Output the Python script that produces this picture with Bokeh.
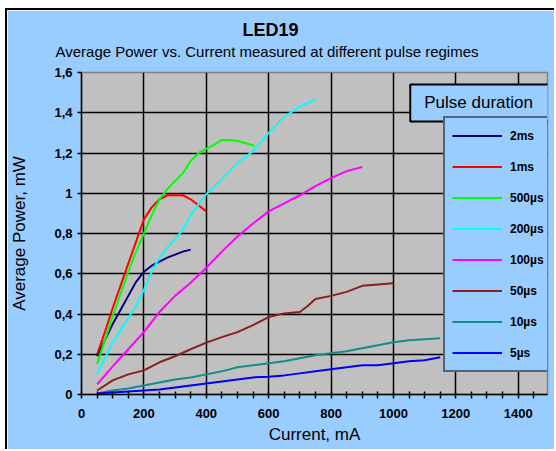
from bokeh.plotting import figure
from bokeh.models import (FixedTicker, Legend, LegendItem, Label, Title,
                          CustomJSTickFormatter, Range1d)
from bokeh.embed import file_html
from bokeh.resources import INLINE

# ---- data ----
series_names = ["2ms", "1ms", "500µs", "200µs", "100µs", "50µs", "10µs", "5µs"]
series_colors = ["#000080", "#FF0000", "#00FF00", "#00FFFF", "#FF00FF",
                 "#8B1E1E", "#148C8C", "#0000FF"]

current_2ms = [50, 75, 100, 125, 150, 175, 200, 225, 250, 275, 300, 325, 350]
power_2ms = [0.19, 0.27, 0.35, 0.42, 0.49, 0.56, 0.61, 0.64, 0.66, 0.68, 0.695, 0.71, 0.72]

current_1ms = [50, 75, 100, 125, 150, 175, 200, 225, 250, 275, 300, 325, 350, 375, 400]
power_1ms = [0.20, 0.31, 0.43, 0.54, 0.65, 0.76, 0.87, 0.93, 0.97, 0.99, 0.99, 0.99, 0.97, 0.94, 0.91]

current_500us = [50, 75, 100, 125, 150, 175, 200, 225, 250, 275, 300, 325, 350, 375,
                 400, 425, 450, 475, 500, 525, 555]
power_500us = [0.15, 0.27, 0.39, 0.50, 0.61, 0.71, 0.80, 0.89, 0.97, 1.02, 1.06, 1.10,
               1.16, 1.20, 1.22, 1.24, 1.265, 1.265, 1.26, 1.25, 1.235]

current_200us = [50, 75, 100, 125, 150, 175, 200, 225, 250, 275, 300, 325, 350, 375, 400,
                 450, 500, 550, 600, 650, 700, 750]
power_200us = [0.10, 0.18, 0.26, 0.32, 0.38, 0.44, 0.52, 0.61, 0.68, 0.73, 0.77, 0.82, 0.89,
               0.945, 0.995, 1.07, 1.15, 1.21, 1.30, 1.38, 1.43, 1.465]

current_100us = [50, 100, 150, 200, 250, 300, 350, 400, 450, 500, 550, 600, 650, 700,
                 750, 800, 850, 900]
power_100us = [0.05, 0.14, 0.225, 0.31, 0.41, 0.49, 0.555, 0.63, 0.71, 0.785, 0.85, 0.91,
               0.95, 0.99, 1.035, 1.075, 1.11, 1.13]

current_50us = [50, 100, 150, 200, 250, 300, 350, 400, 450, 500, 550, 600, 650, 700,
                725, 750, 800, 850, 900, 950, 1000]
power_50us = [0.02, 0.07, 0.10, 0.12, 0.16, 0.19, 0.225, 0.258, 0.285, 0.31, 0.345, 0.385,
              0.403, 0.41, 0.44, 0.475, 0.49, 0.51, 0.54, 0.547, 0.553]

current_10us = [50, 100, 150, 200, 250, 300, 350, 400, 450, 500, 550, 600, 650, 700, 750,
                800, 850, 900, 950, 1000, 1050, 1100, 1150]
power_10us = [0.005, 0.02, 0.03, 0.045, 0.06, 0.075, 0.085, 0.10, 0.115, 0.135, 0.145,
              0.155, 0.165, 0.18, 0.195, 0.205, 0.215, 0.23, 0.245, 0.26, 0.27, 0.275, 0.28]

current_5us = [50, 100, 150, 200, 250, 300, 350, 400, 450, 500, 550, 600, 650, 700, 750,
               800, 850, 900, 950, 1000, 1050, 1100, 1150]
power_5us = [0.005, 0.01, 0.015, 0.02, 0.025, 0.035, 0.045, 0.055, 0.065, 0.075, 0.085,
             0.088, 0.095, 0.105, 0.115, 0.125, 0.135, 0.145, 0.145, 0.155, 0.165, 0.17, 0.185]

x_ticks = [0, 200, 400, 600, 800, 1000, 1200, 1400]
x_minor_ticks = [50, 100, 150, 250, 300, 350, 450, 500, 550, 650, 700, 750, 850, 900, 950,
                 1050, 1100, 1150, 1250, 1300, 1350, 1450]
y_ticks = [0, 0.2, 0.4, 0.6, 0.8, 1.0, 1.2, 1.4, 1.6]

title_text = "LED19"
subtitle_text = "Average Power vs. Current measured at different pulse regimes"
legend_title = "Pulse duration"

xs = [current_2ms, current_1ms, current_500us, current_200us,
      current_100us, current_50us, current_10us, current_5us]
ys = [power_2ms, power_1ms, power_500us, power_200us,
      power_100us, power_50us, power_10us, power_5us]

FONT = "Liberation Sans"
BLUE_BG = "#99CCFF"

p = figure(width=549, height=441, output_backend="svg", toolbar_location=None,
           x_range=Range1d(0, 1494), y_range=Range1d(0, 1.6),
           min_border_left=71, min_border_right=9, min_border_top=62, min_border_bottom=57)
p.styles = {"border-left": "2px solid #000", "border-top": "2px solid #000",
            "margin-left": "5px", "margin-top": "8px"}
p.title.visible = False

p.border_fill_color = BLUE_BG
p.background_fill_color = "#C0C0C0"
p.outline_line_color = "#808080"
p.outline_line_width = 1.5

# titles (stacked above the frame: spacer, subtitle, title)
p.add_layout(Title(text=" ", text_font_size="10px", standoff=0), "above")
p.add_layout(Title(text=subtitle_text, align="left", offset=-26, standoff=0,
                   text_font=FONT, text_font_size="15px", text_font_style="normal",
                   text_color="black"), "above")
p.add_layout(Title(text=title_text, align="left", offset=161, standoff=2,
                   text_font=FONT, text_font_size="18px", text_font_style="bold",
                   text_color="black"), "above")

# axes
p.xaxis.ticker = FixedTicker(ticks=x_ticks, minor_ticks=x_minor_ticks)
p.yaxis.ticker = FixedTicker(ticks=y_ticks)
p.yaxis.formatter = CustomJSTickFormatter(
    code="var s = tick.toFixed(1).replace('.', ','); return s.endsWith(',0') ? s.slice(0, -2) : s;")
for ax in (p.xaxis[0], p.yaxis[0]):
    ax.axis_line_color = "black"
    ax.axis_line_width = 1.5
    ax.major_tick_line_color = "black"
    ax.major_tick_line_width = 1.5
    ax.minor_tick_line_color = "black"
    ax.minor_tick_line_width = 1.5
    ax.major_label_text_font = FONT
    ax.major_label_text_font_size = "13px"
    ax.major_label_text_font_style = "bold"
    ax.major_label_text_color = "black"
    ax.axis_label_text_font = FONT
    ax.axis_label_text_font_size = "17px"
    ax.axis_label_text_font_style = "normal"
    ax.axis_label_text_color = "black"

p.xaxis.axis_label = "Current, mA"
p.xaxis.major_tick_in = 3
p.xaxis.major_tick_out = 4
p.xaxis.minor_tick_in = 3
p.xaxis.minor_tick_out = 4
p.xaxis.major_label_standoff = 10
p.xaxis.axis_label_standoff = 4

p.yaxis.axis_label = "Average Power, mW"
p.yaxis.major_tick_in = 0
p.yaxis.major_tick_out = 4
p.yaxis.minor_tick_line_color = None
p.yaxis.major_label_standoff = 5
p.yaxis.axis_label_standoff = 22

# grid
p.xgrid.ticker = FixedTicker(ticks=x_ticks)
p.ygrid.ticker = FixedTicker(ticks=y_ticks)
for g in (p.xgrid[0], p.ygrid[0]):
    g.grid_line_color = "black"
    g.grid_line_width = 1.5

# lines
items = []
for name, color, x, y in zip(series_names, series_colors, xs, ys):
    r = p.line(x, y, line_color=color, line_width=2)
    items.append(LegendItem(label=name, renderers=[r]))

legend = Legend(items=items, location=(362, 22),
                background_fill_color=BLUE_BG, background_fill_alpha=1,
                border_line_color="black", border_line_width=2,
                label_text_font=FONT, label_text_font_size="12px",
                label_text_font_style="bold", label_text_color="black",
                glyph_width=50, glyph_height=21, label_height=21, label_width=55,
                spacing=10, padding=7, margin=0, label_standoff=8)
p.add_layout(legend, "center")

lt = Label(x=1054, y=1.4485, text=legend_title, text_baseline="middle",
           text_font=FONT, text_font_size="17px", text_color="black",
           background_fill_color=BLUE_BG, background_fill_alpha=1,
           border_line_color="black", border_line_width=2,
           padding=dict(left=14, right=60, top=9, bottom=9))
p.add_layout(lt)

open("out.html", "w").write(file_html(p, INLINE))
